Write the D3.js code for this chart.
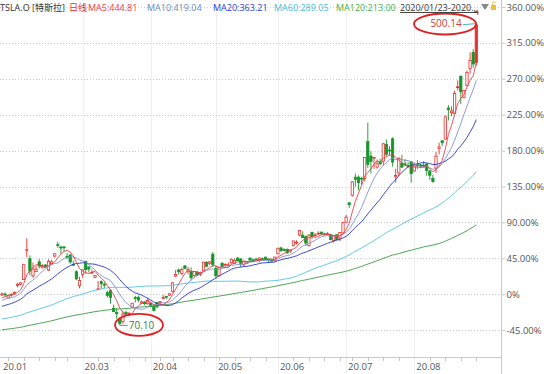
<!DOCTYPE html>
<html>
<head>
<meta charset="utf-8">
<script src="https://cdn.jsdelivr.net/npm/d3@7"></script>
<style>
  body { margin: 0; background: #fff; }
  svg { display: block; font-family: "Open Sans", "Noto Sans CJK SC", sans-serif; }
</style>
</head>
<body>
<svg id="chart" width="544" height="374"></svg>
<script>
// TSLA.O daily, 2020-01-23 .. 2020-08-31 (split adjusted)
var dates = [
  "01-23","01-24","01-27","01-28","01-29","01-30","01-31",
  "02-03","02-04","02-05","02-06","02-07","02-10","02-11","02-12","02-13","02-14","02-18","02-19","02-20","02-21","02-24","02-25","02-26","02-27","02-28",
  "03-02","03-03","03-04","03-05","03-06","03-09","03-10","03-11","03-12","03-13","03-16","03-17","03-18","03-19","03-20","03-23","03-24","03-25","03-26","03-27","03-30","03-31",
  "04-01","04-02","04-03","04-06","04-07","04-08","04-09","04-13","04-14","04-15","04-16","04-17","04-20","04-21","04-22","04-23","04-24","04-27","04-28","04-29","04-30",
  "05-01","05-04","05-05","05-06","05-07","05-08","05-11","05-12","05-13","05-14","05-15","05-18","05-19","05-20","05-21","05-22","05-26","05-27","05-28","05-29",
  "06-01","06-02","06-03","06-04","06-05","06-08","06-09","06-10","06-11","06-12","06-15","06-16","06-17","06-18","06-19","06-22","06-23","06-24","06-25","06-26","06-29","06-30",
  "07-01","07-02","07-06","07-07","07-08","07-09","07-10","07-13","07-14","07-15","07-16","07-17","07-20","07-21","07-22","07-23","07-24","07-27","07-28","07-29","07-30","07-31",
  "08-03","08-04","08-05","08-06","08-07","08-10","08-11","08-12","08-13","08-14","08-17","08-18","08-19","08-20","08-21","08-24","08-25","08-26","08-27","08-28","08-31"
];

// [open, high, low, close]
var ohlc = [
  [112.85,116.40,111.12,114.44],[114.13,116.40,110.23,112.96],[108.40,112.89,107.86,111.60],[113.70,115.26,110.45,113.38],
  [115.14,117.96,113.49,116.20],[126.48,130.18,123.60,128.16],[128.00,130.60,126.50,130.11],
  [134.74,157.23,134.70,156.00],[176.59,193.80,166.78,177.41],[164.65,169.20,140.82,146.94],[139.98,159.17,137.40,149.79],
  [146.11,153.95,146.00,149.61],[160.00,163.99,150.48,154.26],[153.76,156.70,151.60,154.88],[155.57,156.95,151.40,153.46],
  [148.37,163.60,147.00,160.80],[157.44,162.59,157.10,160.01],[168.32,172.00,166.47,171.68],[184.70,188.96,180.20,183.48],
  [181.40,182.40,171.67,179.88],[181.40,182.61,175.20,180.20],[167.80,172.70,164.44,166.76],[169.80,171.32,157.40,159.98],
  [156.50,162.00,154.00,155.76],[146.00,147.95,133.80,135.80],[125.94,138.81,122.30,133.60],
  [142.25,148.74,137.33,148.72],[161.00,161.40,143.22,149.10],[152.79,153.30,144.95,149.90],[144.75,149.15,143.61,144.91],
  [138.00,141.40,136.85,140.70],[121.08,132.60,121.00,121.60],[131.89,133.60,121.60,129.07],[128.04,130.72,122.60,126.85],
  [116.18,118.90,109.25,112.11],[119.00,121.20,100.40,109.32],[93.90,98.97,88.43,89.01],[88.00,94.37,79.20,86.04],
  [77.80,80.97,70.10,72.24],[74.94,90.40,71.69,85.53],[87.64,90.58,85.04,85.51],[86.72,87.95,82.55,86.86],
  [95.46,101.40,94.36,101.00],[109.05,111.40,102.00,107.85],[109.48,112.00,102.45,105.63],[101.00,105.16,100.74,102.87],
  [102.05,103.33,98.20,100.43],[100.25,108.59,99.40,104.80],
  [100.80,102.79,95.02,96.31],[96.21,98.85,89.28,90.89],[101.90,103.10,93.68,96.00],[102.24,104.20,99.59,103.25],
  [109.00,113.00,106.47,109.09],[110.84,111.44,106.67,109.77],[112.42,115.04,111.42,114.60],[118.03,130.40,116.11,130.19],
  [139.79,148.38,138.49,141.98],[148.40,150.63,142.00,145.97],[143.39,151.89,141.34,149.04],[154.46,154.99,149.53,150.78],
  [146.54,153.11,142.44,149.27],[146.02,152.16,133.76,137.34],[140.80,146.80,137.74,146.42],[145.52,147.25,140.00,141.13],
  [142.16,146.15,139.76,145.03],[147.16,159.90,146.72,159.75],[159.36,161.00,152.22,153.82],[158.04,160.64,155.24,160.10],
  [171.04,173.96,152.70,156.38],
  [151.00,154.55,136.61,140.26],[140.20,152.40,139.60,152.24],[157.96,159.78,152.44,153.64],[155.30,157.96,152.22,156.52],
  [155.44,159.28,154.50,156.01],[158.75,164.80,157.40,163.88],[158.10,164.80,157.00,162.26],[165.40,166.93,161.62,161.88],
  [164.17,165.20,152.66,158.19],[156.00,161.35,153.01,160.67],[158.07,161.01,157.32,159.83],[165.60,165.60,160.05,162.73],
  [163.03,164.72,161.38,161.60],[164.10,165.20,162.36,163.11],[163.20,166.50,159.20,165.52],[164.43,166.36,162.40,163.38],
  [166.90,166.92,163.14,163.77],[164.17,164.49,158.17,164.05],[162.70,164.95,160.34,161.16],[161.75,167.00,160.84,167.00],
  [171.60,179.80,170.82,179.62],[179.93,181.73,174.20,176.31],[177.62,179.59,176.02,176.59],[177.98,179.15,171.69,172.88],
  [175.57,177.30,173.24,177.13],[183.80,190.00,181.83,189.98],[188.00,190.89,184.79,188.13],[198.38,205.50,196.50,205.01],
  [198.04,203.79,194.40,194.57],[196.00,197.60,182.52,187.06],[183.56,199.77,181.70,198.18],[202.37,202.58,192.48,196.43],
  [197.54,201.00,196.51,198.36],[200.60,203.84,198.89,200.79],[202.56,203.19,198.27,200.18],[199.99,201.78,198.00,198.86],
  [199.78,202.40,198.80,200.36],[198.82,200.18,190.63,192.17],[190.85,197.20,187.43,197.20],[198.96,199.00,190.97,191.95],
  [193.80,202.00,189.70,201.87],[201.30,217.54,200.75,215.96],
  [216.60,227.07,216.10,223.93],[244.30,245.60,237.12,241.73],[255.34,275.56,253.21,274.32],[281.00,285.90,267.34,277.97],
  [281.00,283.45,262.27,273.18],[279.40,281.71,270.26,278.86],[279.20,309.78,275.20,308.93],[331.80,359.00,294.22,299.41],
  [311.20,318.00,286.20,303.36],[308.60,309.40,293.00,309.20],[295.43,306.34,293.20,300.13],[302.69,307.50,298.00,300.17],
  [303.80,330.00,297.60,328.60],[327.99,335.00,311.60,313.67],[319.80,325.28,312.40,318.47],[335.79,337.80,296.15,302.61],
  [283.20,293.00,273.31,283.40],[287.00,309.59,282.60,307.92],[300.80,312.94,294.88,295.30],[300.20,306.96,297.40,299.82],
  [297.60,302.65,294.20,297.50],[303.00,303.41,273.00,286.15],
  [289.84,301.96,288.88,297.00],[299.00,305.48,292.40,297.40],[298.60,299.97,293.66,297.00],[298.17,303.46,295.45,297.92],
  [299.91,299.95,283.00,290.54],[289.60,291.50,277.17,283.71],[279.20,284.00,273.00,274.88],[294.00,317.00,287.00,310.95],
  [322.20,330.24,313.45,324.20],[333.00,333.76,325.33,330.14],[335.40,369.17,334.57,367.13],[379.80,384.00,362.02,377.42],
  [373.00,382.20,368.24,375.71],[372.14,404.40,371.41,400.37],[408.95,419.10,405.01,409.99],[425.26,425.80,385.50,402.84],
  [394.98,405.59,393.60,404.67],[412.00,433.20,410.73,430.63],[436.09,459.12,428.50,447.75],[459.02,463.70,437.30,442.68],
  [444.61,500.14,440.11,498.32]
];

// closes before the window (2019-08-02 .. 2020-01-22), needed for the moving averages
var preCloses = [
  46.87,45.66,46.15,46.68,47.66,47.00,45.80,47.00,43.92,43.13,43.99,45.37,45.17,44.17,44.43,42.28,43.00,42.82,43.12,44.34,45.12,
  45.00,44.14,45.92,45.49,46.36,47.11,49.42,49.17,49.04,48.56,48.96,48.70,49.32,48.12,48.25,44.64,45.74,48.51,48.43,48.17,
  48.94,48.63,46.61,46.29,47.54,48.01,48.91,48.95,49.58,51.39,51.58,51.95,52.39,51.39,50.70,51.12,50.94,59.94,65.63,65.54,63.24,63.00,62.98,
  62.66,63.49,63.44,65.32,67.11,67.43,69.02,69.99,69.22,69.87,70.43,70.00,71.90,70.44,70.97,66.61,67.27,65.78,66.26,65.99,
  66.97,67.24,66.61,66.07,67.18,67.91,69.77,71.94,71.84,71.68,76.30,75.80,78.63,80.81,81.12,83.84,85.05,86.19,86.08,82.94,83.67,
  86.05,88.60,90.31,93.81,98.43,96.27,95.63,104.97,107.58,103.70,102.70,102.10,109.44,113.91
];

var baseClose = 113.91;   // 0% line
var maPeriods = [5, 10, 20, 60, 120];
var maColors  = ["#e8404a", "#7f92cf", "#2536c8", "#4fc3e0", "#3a9a3e"];
var maText    = ["#e8404a", "#6f88b8", "#2a3cd0", "#3fbfdc", "#48b04c"];
var yTicks = [-45, 0, 45, 90, 135, 180, 225, 270, 315, 360];

var upColor = "#e8302c", downColor = "#17952a";

var svg = d3.select("#chart");
var plotRight = 501, axisY = 357;

var x = d3.scalePoint().domain(dates).range([2, 476.3]);
var y = d3.scaleLinear().domain([-45, 360]).range([330.1, 7]);
var pct = function(v) { return (v / baseClose - 1) * 100; };
var py = function(v) { return y(pct(v)); };

// moving averages
var allCloses = preCloses.concat(ohlc.map(function(d) { return d[3]; }));
var off = preCloses.length;
var maSeries = maPeriods.map(function(p) {
  return dates.map(function(d, i) {
    var end = off + i + 1;
    return d3.mean(allCloses.slice(end - p, end));
  });
});

// month boundaries
var monthStarts = [];
dates.forEach(function(d, i) {
  if (i === 0 || d.slice(0, 2) !== dates[i - 1].slice(0, 2)) monthStarts.push(i);
});
var labelled = [];
monthStarts.forEach(function(i) {
  var last = labelled.length ? x(dates[labelled[labelled.length - 1]]) : -999;
  if (x(dates[i]) - last > 30) labelled.push(i);
});

// vertical month separators
svg.append("g").selectAll("line")
  .data(labelled.filter(function(i) { return i > 0; }))
  .enter().append("line")
  .attr("x1", function(i) { return Math.round(x(dates[i])) + 0.5; })
  .attr("x2", function(i) { return Math.round(x(dates[i])) + 0.5; })
  .attr("y1", 0).attr("y2", 374)
  .attr("stroke", "#efefef");

// horizontal dotted grid
svg.append("g").selectAll("line")
  .data(yTicks).enter().append("line")
  .attr("x1", 0).attr("x2", plotRight)
  .attr("y1", function(d) { return Math.round(y(d)) + 0.5; })
  .attr("y2", function(d) { return Math.round(y(d)) + 0.5; })
  .attr("stroke", "#cccccc")
  .attr("stroke-dasharray", "1,2");

// frame lines
svg.append("line").attr("x1", 0).attr("x2", plotRight).attr("y1", axisY + 0.5).attr("y2", axisY + 0.5).attr("stroke", "#c8c8c8");
svg.append("line").attr("x1", plotRight + 0.5).attr("x2", plotRight + 0.5).attr("y1", 0).attr("y2", 374).attr("stroke", "#c8c8c8");

// right axis
var yAxis = d3.axisRight(y).tickValues(yTicks).tickSize(4).tickPadding(1)
  .tickFormat(function(d) { return d === 0 ? "0%" : d.toFixed(2) + "%"; });
var gy = svg.append("g").attr("transform", "translate(" + (plotRight + 0.5) + ",0)").call(yAxis);
gy.select(".domain").remove();
gy.selectAll(".tick line").attr("stroke", "#c8c8c8");
gy.selectAll(".tick text").attr("fill", "#555").style("font-size", "9.5px").style("font-family", "'Open Sans', sans-serif");

// bottom labels and weekly minor ticks
svg.append("g").selectAll("text")
  .data(labelled).enter().append("text")
  .attr("x", function(i) { return x(dates[i]) + (i === 0 ? 1 : 2); })
  .attr("y", 370)
  .attr("fill", "#555")
  .style("font-size", "9.5px")
  .text(function(i) { return "20." + dates[i].slice(0, 2); });

var weekStarts = [];
dates.forEach(function(d, i) {
  if (i === 0) return;
  var a = new Date(2020, +dates[i - 1].slice(0, 2) - 1, +dates[i - 1].slice(3));
  var b = new Date(2020, +d.slice(0, 2) - 1, +d.slice(3));
  if (b.getDay() < a.getDay() && labelled.indexOf(i) < 0) weekStarts.push(i);
});
svg.append("g").selectAll("line")
  .data(weekStarts).enter().append("line")
  .attr("x1", function(i) { return Math.round(x(dates[i])) + 0.5; })
  .attr("x2", function(i) { return Math.round(x(dates[i])) + 0.5; })
  .attr("y1", axisY + 1).attr("y2", axisY + 4)
  .attr("stroke", "#c4c4c4");

// plot area
svg.append("clipPath").attr("id", "plotclip")
  .append("rect").attr("x", 0).attr("y", 0).attr("width", plotRight).attr("height", axisY);
var plot = svg.append("g").attr("clip-path", "url(#plotclip)");

var bodyW = 2.3;
var candles = plot.append("g").selectAll("g")
  .data(ohlc).enter().append("g");
candles.append("line")
  .attr("x1", function(d, i) { return x(dates[i]); })
  .attr("x2", function(d, i) { return x(dates[i]); })
  .attr("y1", function(d) { return py(d[1]); })
  .attr("y2", function(d) { return py(d[2]); })
  .attr("stroke", function(d) { return d[3] >= d[0] ? upColor : downColor; })
  .attr("stroke-width", 0.9);
candles.append("rect")
  .attr("x", function(d, i) { return x(dates[i]) - bodyW / 2; })
  .attr("width", bodyW)
  .attr("y", function(d) { return py(Math.max(d[0], d[3])); })
  .attr("height", function(d) { return Math.max(0.8, Math.abs(py(d[0]) - py(d[3]))); })
  .attr("fill", function(d, i) { return d[3] >= d[0] ? (i === ohlc.length - 1 ? upColor : "#fff") : downColor; })
  .attr("stroke", function(d) { return d[3] >= d[0] ? upColor : downColor; })
  .attr("stroke-width", 0.8);

// moving average lines
var line = d3.line()
  .x(function(d, i) { return x(dates[i]); })
  .y(function(d) { return py(d); });
plot.append("g").selectAll("path")
  .data(maSeries.slice().reverse()).enter().append("path")
  .attr("d", line)
  .attr("fill", "none")
  .attr("stroke", function(d, i) { return maColors[maColors.length - 1 - i]; })
  .attr("stroke-width", 0.9);

// extremes annotations
var hiIdx = d3.maxIndex(ohlc, function(d) { return d[1]; });
var loIdx = d3.minIndex(ohlc, function(d) { return d[2]; });
var hx = x(dates[hiIdx]), hy = py(ohlc[hiIdx][1]);
var lx = x(dates[loIdx]), ly = py(ohlc[loIdx][2]);

svg.append("text").attr("x", 446).attr("y", hy + 3.5).attr("text-anchor", "middle")
  .attr("fill", "#c8403c").style("font-size", "10px")
  .text(ohlc[hiIdx][1].toFixed(2));
svg.append("polyline")
  .attr("points", [[463, hy + 1], [hx - 1, hy]].join(" "))
  .attr("fill", "none").attr("stroke", "#3aaab8").attr("stroke-width", 0.9);
svg.append("ellipse").attr("cx", 445).attr("cy", hy + 0.3).attr("rx", 31).attr("ry", 10.5)
  .attr("fill", "none").attr("stroke", "#e02020").attr("stroke-width", 1.8);
svg.append("polyline")
  .attr("points", [[hx - 2, 11.5], [hx + 1.5, 11.5], [hx + 1.5, 15]].join(" "))
  .attr("fill", "none").attr("stroke", upColor).attr("stroke-width", 1);

svg.append("polyline")
  .attr("points", [[lx, ly], [lx, ly + 0.5], [lx + 8, ly + 0.5]].join(" "))
  .attr("fill", "none").attr("stroke", "#3d9a5a").attr("stroke-width", 0.9);
svg.append("text").attr("x", lx + 9).attr("y", ly + 4)
  .attr("fill", "#3b7d4c").style("font-size", "10px")
  .text(ohlc[loIdx][2].toFixed(2));
svg.append("ellipse").attr("cx", 139).attr("cy", ly).attr("rx", 24).attr("ry", 11)
  .attr("fill", "none").attr("stroke", "#e02020").attr("stroke-width", 1.8);

// header
var header = svg.append("g").style("font-size", "9px");
header.append("text").attr("x", 0).attr("y", 11).attr("fill", "#333").text("TSLA.O [特斯拉]");
header.append("text").attr("x", 69).attr("y", 11).attr("fill", "#e8302c").text("日线");
var maX = [88, 147, 213, 274, 336];
maPeriods.forEach(function(p, k) {
  var v = maSeries[k][dates.length - 1];
  header.append("text").attr("x", maX[k]).attr("y", 11).attr("fill", maText[k])
    .text("MA" + p + ":" + v.toFixed(2));
});
header.append("text").attr("x", 400).attr("y", 11).attr("fill", "#333")
  .attr("text-decoration", "underline").text("2020/01/23-2020...");
header.append("path").attr("d", "M481,4 L489,4 L485,10 Z").attr("fill", "#888");
header.append("rect").attr("x", 491).attr("y", 5).attr("width", 5).attr("height", 5).attr("fill", "#f0be3a");
header.append("path").attr("d", "M492.5,5 V3.2 A1.5,1.5 0 0 1 495.5,3.2").attr("fill", "none").attr("stroke", "#f0be3a").attr("stroke-width", 0.9);
</script>
</body>
</html>
